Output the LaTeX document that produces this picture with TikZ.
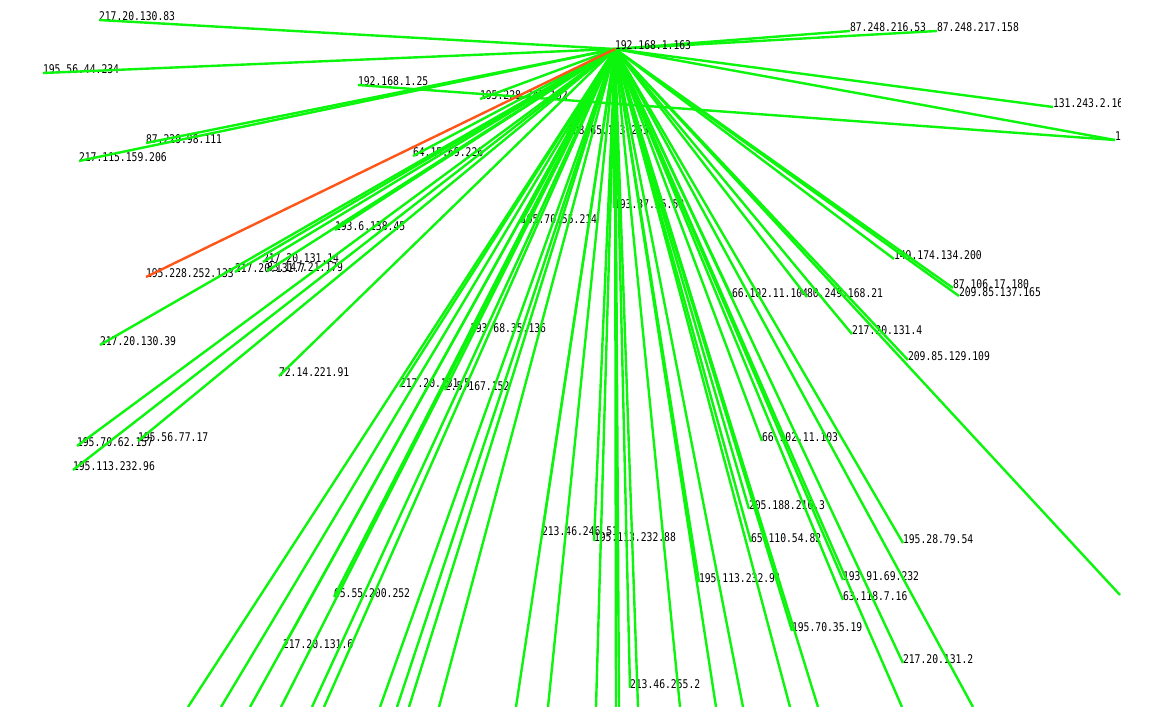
\documentclass[tikz,border=0pt]{standalone}
\usepackage{fontspec}
\newfontfamily\lblfont[FakeStretch=0.81]{DejaVu Sans Mono}
\definecolor{linkgreen}{RGB}{12,245,12}
\definecolor{linkred}{RGB}{255,85,25}
\pgfdeclarelayer{edges}
\pgfdeclarelayer{top}
\pgfsetlayers{main,edges,top}
\tikzset{
  ip/.style={anchor=base west, inner sep=0pt, outer sep=0pt,
             font=\lblfont\fontsize{12}{12}\selectfont, text=black},
  link/.style={draw=linkgreen, line width=2.4pt},
  hot/.style={draw=linkred, line width=2.4pt},
}
\begin{document}
\begin{tikzpicture}[x=1pt,y=-1pt]
\useasboundingbox (0,0) rectangle (1165,707);
\fill[white] (0,0) rectangle (1165,707);

% central host, printed above the links
\begin{pgfonlayer}{top}
  \node[ip] (hub) at (615,49) {192.168.1.163};
\end{pgfonlayer}

% peer addresses
\begin{scope}
\clip (0,0) rectangle (1120,707);
\node[ip] (n01) at (99,20)   {217.20.130.83};
\node[ip] (n02) at (43,73)   {195.56.44.234};
\node[ip] (n03) at (358,85)  {192.168.1.25};
\node[ip] (n04) at (146,143) {87.229.98.111};
\node[ip] (n05) at (79,161)  {217.115.159.206};
\node[ip] (n06) at (480,99)  {195.228.242.152};
\node[ip] (n07) at (413,156) {64.15.69.226};
\node[ip] (n08) at (567,134) {208.65.153.253};
\node[ip] (n09) at (614,208) {193.37.55.58};
\node[ip] (n10) at (521,223) {195.70.55.214};
\node[ip] (n11) at (335,230) {193.6.138.45};
\node[ip] (n12) at (263,262) {217.20.131.14};
\node[ip] (n13) at (235,272) {217.20.131.7};
\node[ip] (n14) at (267,271) {83.147.21.179};
\node[ip] (n15) at (146,277) {195.228.252.133};
\node[ip] (n16) at (100,345) {217.20.130.39};
\node[ip] (n17) at (279,376) {72.14.221.91};
\node[ip] (n18) at (470,332) {193.68.35.136};
\node[ip] (n19) at (400,387) {217.20.131.5};
\node[ip] (n20) at (445,390) {2.5.167.152};
\node[ip] (n21) at (77,446)  {195.70.62.157};
\node[ip] (n22) at (138,441) {195.56.77.17};
\node[ip] (n23) at (73,470)  {195.113.232.96};
\node[ip] (n24) at (732,297) {66.102.11.104};
\node[ip] (n25) at (807,297) {80.249.168.21};
\node[ip] (n26) at (894,259) {149.174.134.200};
\node[ip] (n27) at (953,288) {87.106.17.180};
\node[ip] (n28) at (959,296) {209.85.137.165};
\node[ip] (n29) at (852,334) {217.20.131.4};
\node[ip] (n30) at (908,360) {209.85.129.109};
\node[ip] (n31) at (1115,140) {195.56.65.2};
\node[ip] (n32) at (1053,107) {131.243.2.162};
\node[ip] (n33) at (850,31)  {87.248.216.53};
\node[ip] (n34) at (937,31)  {87.248.217.158};
\node[ip] (n35) at (762,441) {66.102.11.103};
\node[ip] (n36) at (749,509) {205.188.216.3};
\node[ip] (n37) at (751,542) {65.110.54.82};
\node[ip] (n38) at (903,543) {195.28.79.54};
\node[ip] (n39) at (542,535) {213.46.246.51};
\node[ip] (n40) at (594,541) {195.113.232.88};
\node[ip] (n41) at (699,582) {195.113.232.91};
\node[ip] (n42) at (843,580) {193.91.69.232};
\node[ip] (n43) at (843,600) {63.118.7.16};
\node[ip] (n44) at (792,631) {195.70.35.19};
\node[ip] (n45) at (903,663) {217.20.131.2};
\node[ip] (n46) at (630,688) {213.46.255.2};
\node[ip] (n47) at (334,597) {65.55.200.252};
\node[ip] (n48) at (283,648) {217.20.131.6};
\end{scope}

% peers beyond the lower and right borders
\foreach \x [count=\i] in {188,221,250,281,312,324,380,397,409,439,516,548,596,616,619,638,680,716,743,790,818,902,973}
  \coordinate (b\i) at (\x,707);
\coordinate (r1) at (1120,595);

% links
\begin{pgfonlayer}{edges}
\foreach \n in {n01,n02,n04,n05,n06,n07,n08,n09,n10,n11,n12,n13,n14,n16,n17,n18,n19,n20,
                n21,n22,n23,n24,n25,n26,n27,n28,n29,n30,n31,n32,n33,n34,n35,n36,n37,n38,
                n39,n40,n41,n42,n43,n44,n45,n46,n47,n48}
  \draw[link] (hub.base west) -- (\n.base west);
\foreach \i in {1,...,23}
  \draw[link] (hub.base west) -- (b\i);
\draw[link] (hub.base west) -- (r1);
\draw[link] (n03.base west) -- (n31.base west);
\draw[hot] (hub.base west) -- (n15.base west);
\end{pgfonlayer}
\end{tikzpicture}
\end{document}
